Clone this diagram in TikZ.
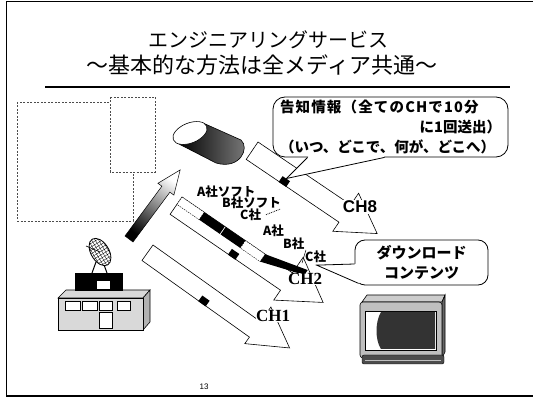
\documentclass[tikz,border=0pt]{standalone}
\usepackage{fontspec}
\setmainfont{Liberation Sans}
\newfontfamily\jpfont{Noto Sans CJK JP}
\newfontfamily\chfont{Liberation Serif}
\usetikzlibrary{calc}

\tikzset{
  chan/.style={draw=black, fill=white, line width=0.6pt},
  chip/.style={fill=black, minimum width=9pt, minimum height=7pt, inner sep=0pt},
  slot/.style={fill=white, draw=black, line width=0.4pt, dash pattern=on 1.5pt off 1pt},
  docbox/.style={draw=black!70, line width=0.5pt, dash pattern=on 2pt off 1.5pt},
  corp/.style={font=\jpfont\bfseries\fontsize{12.5}{13}\selectfont, inner sep=0pt, anchor=west},
  bubble/.style={draw, fill=white, line width=0.8pt, rounded corners=12pt, inner sep=0pt},
  chname/.style={font=\bfseries\fontsize{17}{17}\selectfont, fill=white, inner sep=0.5pt},
}

\begin{document}
\begin{tikzpicture}[x=1pt, y=-1pt]
\useasboundingbox (0,0) rectangle (533,403);
% frame and title
\draw[line width=1.4pt] (533,1.5) -- (6.5,1.5) -- (6.5,396) -- (533,396);
\node[font=\jpfont\fontsize{20}{20}\selectfont] (title) at (268,40) {エンジニアリングサービス};
\node[font=\jpfont\fontsize{22}{22}\selectfont] (subtitle) at (262,65) {～基本的な方法は全メディア共通～};
\draw[line width=2.6pt] (45,87) -- (510,87);
\node[font=\fontsize{8}{8}\selectfont] (page) at (204,387) {13};

% program guide pages
\draw[docbox] (17,102) rectangle (133,221);
\filldraw[docbox, fill=white] (110,97) rectangle (155,172);

% storage can
\shadedraw[left color=black, right color=black!50, line width=0.6pt] (203,123) -- (241,140) .. controls (250,148) and (240,170) .. (216,163) -- (177,143) -- cycle;
\filldraw[fill=white, line width=0.6pt, rotate around={22:(190,133)}] (190,133) ellipse (18 and 10);

% station building
\filldraw[fill=black!15, line width=0.6pt] (58,298) -- (66,290) -- (150,290) -- (143,298) -- cycle;
\filldraw[fill=black!30, line width=0.6pt] (143,298) -- (150,290) -- (150,322) -- (143,330) -- cycle;
\filldraw[fill=black!15, line width=0.6pt] (58,298) rectangle (143,330);
\foreach \x/\w in {65/15, 82/15, 99/13, 117/13}
	\filldraw[fill=white, line width=0.5pt] (\x,301) rectangle ++(\w,9);
\filldraw[fill=white, line width=0.5pt] (99,312) rectangle (112,328);
\fill (75,273) rectangle (123,291);
\fill[white] (97,281) rectangle (110,289);
% dish on the roof
\draw[line width=1pt] (96,262) -- (92,273) (103,262) -- (107,273);
\filldraw[fill=white, line width=0.8pt, rotate around={31:(100,252)}] (100,252) ellipse (9 and 15);
\begin{scope}
	\clip[rotate around={31:(100,252)}] (100,252) ellipse (9 and 15);
	\draw[line width=0.3pt, step=3pt, rotate around={31:(100,252)}] (88,234) grid (112,270);
\end{scope}
\draw[line width=0.6pt] (100,252) -- (86,246);

% uplink
\shadedraw[bottom color=black, middle color=black!60, top color=white, shading angle=-36.5, line width=0.5pt] (125,236) -- (161.9,186.2) -- (157.9,183.3) -- (180.2,169.9) -- (173.9,195.1) -- (169.9,192.2) -- (133,242) -- cycle;

% CH8
\begin{scope}[shift={(258,142)}, rotate=-34.1]
	\draw[chan] (0,0) -- (112,0) -- (112,-14) -- (150,9) -- (112,32) -- (112,21) -- (0,21) -- cycle;
	\node[chip, rotate=-34.1] (m8) at (44,18) {};
\end{scope}
% CH2 with the download slots
\begin{scope}[shift={(182,197)}, rotate=-34.5]
	\draw[chan] (0,0) -- (134,0) -- (134,-19) -- (176,7) -- (134,33) -- (134,21) -- (0,21) -- cycle;
	\draw[slot] (0,0) rectangle (27,9);
	\fill (27,0) rectangle (52,9);
	\fill (53,0) rectangle (77,9);
	\draw[slot] (77,0) rectangle (101,9);
	\fill (101,0) -- (145,-11) -- (145,-5) -- (101,9) -- cycle;
	\node[chip, rotate=-34.5] (m2) at (75,18) {};
\end{scope}
% CH1
\begin{scope}[shift={(153,245)}, rotate=-35.5]
	\draw[chan] (0,0) -- (132,0) -- (132,-18) -- (171,4.5) -- (132,27) -- (132,19) -- (0,19) -- cycle;
	\node[chip, rotate=-35.5] (m1) at (74,16) {};
\end{scope}

\node[chname] (ch8) at (360,207) {CH8};
\node[chname, font=\chfont\bfseries\fontsize{17}{17}\selectfont] (ch2) at (305,279) {CH2};
\node[chname, font=\chfont\bfseries\fontsize{17}{17}\selectfont] (ch1) at (273,316) {CH1};

% what is in each slot
\node[corp] (asoft) at (197,192) {A社ソフト};
\node[corp] (bsoft) at (222,203) {B社ソフト};
\node[corp] (cco) at (240,215) {C社};
\node[corp] (aco) at (263,231) {A社};
\node[corp] (bco) at (283,244) {B社};
\node[corp] (cco2) at (305,257) {C社};
\draw[densely dotted, line width=0.8pt] ([xshift=-1pt]bsoft.south east) -- ([xshift=4pt]cco.east);
\draw[line width=0.5pt] ([xshift=-3pt]cco2.south west) -- ([xshift=1pt, yshift=1pt]cco2.north west);

% callouts
\node[bubble, minimum width=235pt, minimum height=60pt, text width=221pt, align=left,
	font=\jpfont\bfseries\fontsize{14.5}{20}\selectfont] (info) at (390.5,127)
	{{\addfontfeatures{LetterSpace=8}告知情報（全てのCHで10分}\\\hspace*{\fill}に1回送出）\\（いつ、どこで、何が、どこへ）};
\fill[white] ($(info.south west)+(35,0)$) -- (m8.north) -- ($(info.south west)+(112,0)$) -- ($(info.south west)+(110,-3)$) -- ($(info.south west)+(37,-3)$) -- cycle;
\draw[line width=0.8pt] ($(info.south west)+(35,0)$) -- (m8.north) -- ($(info.south west)+(112,0)$);

\node[bubble, rounded corners=10pt, minimum width=133pt, minimum height=45pt, align=center,
	font=\jpfont\bfseries\fontsize{15}{20}\selectfont] (dl) at (421.5,262.5) {ダウンロード\\コンテンツ};
\fill[white] ($(dl.west)+(0,1.5)$) -- ($(cco2.south)+(1,2)$) -- ($(dl.south west)+(4,-2)$) -- ($(dl.south west)+(11,-6)$) -- ($(dl.west)+(5,1.5)$) -- cycle;
\draw[line width=0.8pt] ($(dl.west)+(0,1.5)$) -- ($(cco2.south)+(1,2)$) -- ($(dl.south west)+(4,-2)$);

% receiver
\filldraw[fill=black!20, line width=0.6pt] (362,302) -- (367,295) -- (445,295) -- (442,302) -- cycle;
\filldraw[fill=black!60, line width=0.6pt] (442,302) -- (445,295) -- (445,352) -- (442,358) -- cycle;
\filldraw[fill=black!25, line width=0.6pt, rounded corners=3pt] (360,302) rectangle (442,358);
\filldraw[fill=white, line width=0.6pt] (365,311) rectangle (436,350);
\fill[black!80] (381,312) .. controls (375,322) and (375,340) .. (381,349) -- (435,349) -- (435,312) -- cycle;
\filldraw[fill=black!70, rounded corners=2pt] (362,355) rectangle (444,364);
\draw[black!25] (365,360) -- (441,360);
\end{tikzpicture}
\end{document}
